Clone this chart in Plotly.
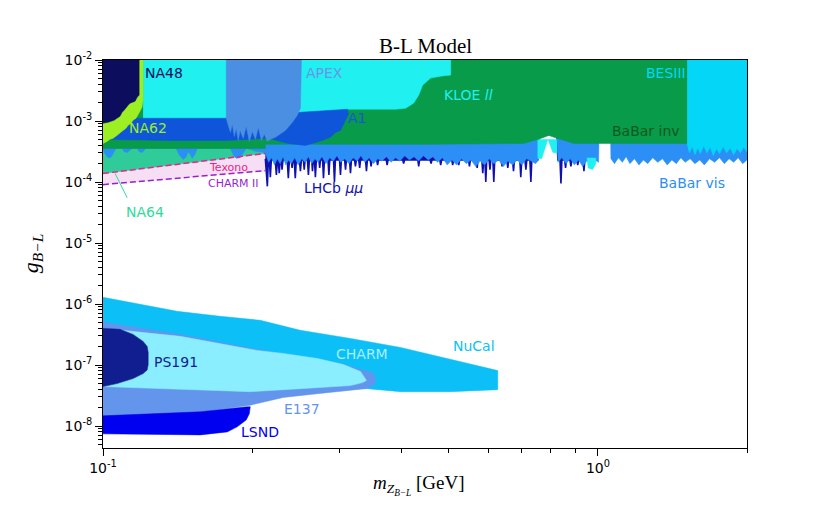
import numpy as np
import plotly.graph_objects as go

# ---------------- data: mass m_Z (GeV) and coupling g_B-L ----------------
# upper (visible / invisible decay) bounds
babar_inv_m = [0.1, 1.514, 1.514, 0.894, 0.8147, 0.7957, 0.7667, 0.7083, 0.459, 0.2128, 0.2128, 0.1]
babar_inv_g = [1e-2, 1e-2, 4.29e-4, 4.29e-4, 5.4e-4, 5.81e-4, 5.19e-4, 4.29e-4, 4.14e-4, 4.14e-4, 3.55e-4, 3.55e-4]

babar_vis_m = [0.1, 0.1009, 0.1024, 0.1038, 0.1053, 0.1062, 0.1093, 0.1103, 0.1119, 0.1134, 0.1145,
               0.1172, 0.1183, 0.1199, 0.1210, 0.1222, 0.1405, 0.1425, 0.1452, 0.1471, 0.1486, 0.1500,
               0.1514, 0.1536, 0.1550, 0.1809, 0.1833, 0.1858, 0.1892, 0.1920, 0.1947, 0.1984, 0.2032,
               0.2100,
               0.213, 0.216, 0.219, 0.222, 0.225, 0.228, 0.231, 0.234, 0.237, 0.240, 0.244, 0.248,
               0.252, 0.256, 0.260, 0.264, 0.268, 0.272, 0.277, 0.282, 0.287, 0.292, 0.297, 0.302,
               0.308, 0.314, 0.320, 0.326, 0.332, 0.338, 0.345, 0.352, 0.359, 0.366, 0.374, 0.382,
               0.390, 0.398, 0.407, 0.416, 0.425, 0.434, 0.444, 0.454, 0.464, 0.474, 0.485, 0.496,
               0.507, 0.518, 0.530, 0.542, 0.554, 0.566, 0.578, 0.590, 0.603, 0.616, 0.630, 0.644,
               0.658, 0.672, 0.687, 0.702, 0.717, 0.733, 0.748, 0.7558, 0.7593, 0.792, 0.826, 0.830,
               0.845, 0.862, 0.879, 0.896, 0.913, 0.931, 0.949, 0.967, 0.985, 1.003, 1.005, 1.060,
               1.062, 1.080, 1.100, 1.120, 1.140, 1.160, 1.185, 1.210, 1.235, 1.260, 1.290, 1.320,
               1.350, 1.380, 1.410, 1.440, 1.470, 1.500, 1.535, 1.570, 1.605, 1.640, 1.680, 1.720,
               1.760, 1.800, 1.840, 1.880, 1.920, 1.960, 2.0, 2.0, 0.1]
babar_vis_g = [3.4e-4, 2.9e-4, 2.5e-4, 2.55e-4, 3.1e-4, 3.55e-4, 3.55e-4, 3.15e-4, 3.05e-4, 3.3e-4, 3.55e-4,
               3.55e-4, 3.15e-4, 3.05e-4, 3.35e-4, 3.55e-4, 3.55e-4, 2.8e-4, 2.35e-4, 2.55e-4, 3.1e-4, 2.85e-4,
               2.45e-4, 2.9e-4, 3.55e-4, 3.55e-4, 2.8e-4, 2.45e-4, 2.5e-4, 3.0e-4, 3.55e-4, 3.4e-4, 3.2e-4,
               3.1e-4,
               2.9e-4, 2.1e-4, 2.5e-4, 1.9e-4, 2.4e-4, 2.0e-4, 2.6e-4, 1.9e-4, 2.3e-4, 2.0e-4, 2.5e-4, 1.9e-4,
               2.4e-4, 2.1e-4, 2.6e-4, 2.0e-4, 2.4e-4, 2.1e-4, 2.6e-4, 2.0e-4, 2.5e-4, 2.2e-4, 2.7e-4, 2.1e-4,
               2.4e-4, 2.0e-4, 2.5e-4, 2.2e-4, 2.7e-4, 2.1e-4, 2.5e-4, 2.0e-4, 2.4e-4, 2.2e-4, 2.6e-4, 2.1e-4,
               2.5e-4, 2.2e-4, 2.7e-4, 2.3e-4, 2.6e-4, 2.2e-4, 2.7e-4, 2.3e-4, 2.6e-4, 2.1e-4, 2.5e-4, 1.9e-4,
               2.3e-4, 1.9e-4, 2.4e-4, 2.0e-4, 2.3e-4, 1.8e-4, 2.2e-4, 1.9e-4, 2.4e-4, 2.0e-4, 2.3e-4, 1.8e-4,
               2.2e-4, 1.9e-4, 2.3e-4, 1.9e-4, 2.4e-4, 2.2e-4, 2.0e-4, 2.2e-4, 6e-4, 6e-4, 6e-4, 2.1e-4,
               2.5e-4, 2.0e-4, 2.4e-4, 1.9e-4, 2.3e-4, 1.8e-4, 2.2e-4, 1.9e-4, 2.3e-4, 2.1e-4, 6e-4, 6e-4,
               2.4e-4, 2.0e-4, 2.5e-4, 2.1e-4, 2.6e-4, 2.0e-4, 2.4e-4, 1.9e-4, 2.3e-4, 2.0e-4, 2.5e-4, 2.1e-4,
               2.4e-4, 1.9e-4, 2.3e-4, 2.0e-4, 2.5e-4, 2.1e-4, 2.4e-4, 2.0e-4, 2.3e-4, 1.9e-4, 2.4e-4, 2.1e-4,
               2.5e-4, 2.0e-4, 2.4e-4, 2.1e-4, 2.5e-4, 2.0e-4, 2.3e-4, 1e-2, 1e-2]

# LHCb mu-mu: thin downward spikes (base, tip, base) below the BaBar band
lhcb_m = [0.2128, 0.2138, 0.2148, 0.2158, 0.2168, 0.2178, 0.2188, 0.2228, 0.2240, 0.2252, 0.2260, 0.2270,
          0.2280, 0.2290, 0.2300, 0.2310, 0.2356, 0.2368, 0.2380, 0.2400, 0.2410, 0.2420, 0.2434, 0.2446,
          0.2458, 0.2493, 0.2505, 0.2517, 0.2540, 0.2550, 0.2560, 0.2588, 0.2600, 0.2612, 0.2640, 0.2650,
          0.2660, 0.2674, 0.2686, 0.2698, 0.2730, 0.2740, 0.2750, 0.2777, 0.2789, 0.2801, 0.2848, 0.2860,
          0.2872, 0.2922, 0.2935, 0.2948, 0.3005, 0.3018, 0.3031, 0.3077, 0.3090, 0.3103, 0.3148, 0.3162,
          0.3176, 0.3222, 0.3236, 0.3250, 0.3286, 0.3300, 0.3314, 0.3391, 0.3406, 0.3421, 0.3465, 0.3480,
          0.3495, 0.3572, 0.3587, 0.3602, 0.3734, 0.3750, 0.3766, 0.4032, 0.4049, 0.4066, 0.4325, 0.4343,
          0.4361, 0.4580, 0.4600, 0.4620, 0.4790, 0.4811, 0.4832, 0.5065, 0.5087, 0.5109, 0.5209, 0.5232,
          0.5255, 0.5476, 0.5500, 0.5524, 0.5675, 0.5700, 0.5725, 0.5826, 0.5851, 0.5876, 0.5908, 0.5934,
          0.5960, 0.6024, 0.6050, 0.6076, 0.6132, 0.6159, 0.6186, 0.6372, 0.6400, 0.6428, 0.6544, 0.6573,
          0.6602, 0.6720, 0.6750, 0.6780, 0.6952, 0.6983, 0.7014, 0.7118, 0.7150, 0.7182, 0.7285, 0.7318,
          0.7351, 0.7558, 0.7593, 0.8260, 0.8298, 0.8380, 0.8417, 0.8454, 0.8562, 0.8600, 0.8638, 0.8777,
          0.8816, 0.8855, 0.9060, 0.9100, 0.9140, 0.9327, 0.9368, 0.9409, 0.9800, 0.9800, 0.2128]
lhcb_g = [2.4e-4, 1.6e-4, 8.5e-5, 2.3e-4, 2.3e-4, 1.2e-4, 2.3e-4, 2.3e-4, 1.3e-4, 2.3e-4, 2.3e-4, 1.4e-4,
          2.3e-4, 2.3e-4, 1.6e-4, 2.3e-4, 2.3e-4, 1.15e-4, 2.3e-4, 2.3e-4, 1.7e-4, 2.3e-4, 2.3e-4, 1.15e-4,
          2.3e-4, 2.3e-4, 1.5e-4, 2.3e-4, 2.3e-4, 1.6e-4, 2.3e-4, 2.3e-4, 1.3e-4, 2.3e-4, 2.3e-4, 1.5e-4,
          2.3e-4, 2.3e-4, 1.2e-4, 2.3e-4, 2.3e-4, 1.7e-4, 2.3e-4, 2.3e-4, 1.15e-4, 2.3e-4, 2.3e-4, 1.3e-4,
          2.3e-4, 2.3e-4, 1.0e-4, 2.3e-4, 2.3e-4, 1.3e-4, 2.3e-4, 2.3e-4, 1.6e-4, 2.3e-4, 2.3e-4, 1.4e-4,
          2.3e-4, 2.3e-4, 1.8e-4, 2.3e-4, 2.3e-4, 1.7e-4, 2.3e-4, 2.3e-4, 1.5e-4, 2.3e-4, 2.3e-4, 1.8e-4,
          2.3e-4, 2.3e-4, 1.9e-4, 2.3e-4, 2.3e-4, 1.9e-4, 2.3e-4, 2.3e-4, 2.0e-4, 2.3e-4, 2.3e-4, 1.8e-4,
          2.3e-4, 2.3e-4, 2.0e-4, 2.3e-4, 2.3e-4, 1.9e-4, 2.3e-4, 2.3e-4, 1.9e-4, 2.3e-4, 2.3e-4, 1.9e-4,
          2.3e-4, 2.3e-4, 1.8e-4, 2.3e-4, 2.3e-4, 1.7e-4, 2.3e-4, 2.3e-4, 1.4e-4, 2.3e-4, 2.3e-4, 1.0e-4,
          2.3e-4, 2.3e-4, 1.6e-4, 2.3e-4, 2.3e-4, 1.0e-4, 2.3e-4, 2.3e-4, 1.8e-4, 2.3e-4, 2.3e-4, 1.7e-4,
          2.3e-4, 2.3e-4, 1.5e-4, 2.3e-4, 2.3e-4, 1.2e-4, 2.3e-4, 2.3e-4, 1.6e-4, 2.3e-4, 2.3e-4, 1.0e-4,
          2.3e-4, 2.3e-4, 6e-4, 6e-4, 2.3e-4, 2.3e-4, 9.5e-5, 2.3e-4, 2.3e-4, 1.7e-4, 2.3e-4, 2.3e-4,
          1.8e-4, 2.3e-4, 2.3e-4, 1.9e-4, 2.3e-4, 2.3e-4, 1.5e-4, 2.3e-4, 2.4e-4, 6e-4, 6e-4]

besiii_m = [1.514, 1.53, 1.55, 1.57, 1.59, 1.61, 1.635, 1.66, 1.685, 1.71, 1.735, 1.76, 1.79, 1.82,
            1.85, 1.88, 1.91, 1.94, 1.97, 2.0, 2.0, 1.514]
besiii_g = [4.2e-4, 3.0e-4, 3.8e-4, 2.8e-4, 3.6e-4, 2.9e-4, 3.9e-4, 3.0e-4, 3.7e-4, 2.7e-4, 3.5e-4, 2.9e-4,
            3.8e-4, 3.0e-4, 3.6e-4, 2.8e-4, 3.5e-4, 3.0e-4, 3.7e-4, 3.1e-4, 1e-2, 1e-2]

kloe_m = [0.1205, 0.5041, 0.5041, 0.4811, 0.459, 0.4422, 0.4343, 0.4240, 0.4087, 0.3901, 0.3118, 0.25, 0.1205]
kloe_g = [1e-2, 1e-2, 5.66e-3, 5.44e-3, 5.05e-3, 3.87e-3, 2.65e-3, 1.96e-3, 1.62e-3, 1.56e-3, 1.56e-3, 1.0e-3, 1.0e-3]
kloe_low1_m = [0.7558, 0.7558, 0.770, 0.781, 0.792]
kloe_low1_g = [5.0e-4, 2.43e-4, 2.43e-4, 3.55e-4, 5.0e-4]
kloe_low2_m = [0.792, 0.8033, 0.8108, 0.8260, 0.8260]
kloe_low2_g = [5.0e-4, 3.55e-4, 3.05e-4, 3.0e-4, 5.0e-4]
kloe_low3_m = [0.950, 0.955, 0.975, 0.990, 0.990]
kloe_low3_g = [2.5e-4, 1.7e-4, 1.6e-4, 2.0e-4, 2.5e-4]

a1_m = [0.1, 0.1774, 0.2505, 0.3018, 0.3118, 0.3133, 0.3089, 0.3060, 0.3018, 0.2949, 0.2880, 0.2775,
        0.2564, 0.2368, 0.2158, 0.1774, 0.1366, 0.1]
a1_g = [1.11e-3, 1.11e-3, 1.39e-3, 1.53e-3, 1.56e-3, 1.3e-3, 1.03e-3, 9.2e-4, 7.0e-4, 6.5e-4, 5.4e-4, 4.8e-4,
        3.98e-4, 4.29e-4, 5.2e-4, 4.8e-4, 4.8e-4, 5.0e-4]

apex_m = [0.1774, 0.1774, 0.1791, 0.1809, 0.1825, 0.1842, 0.1858, 0.1876, 0.1892, 0.1920, 0.1947, 0.1975,
          0.2003, 0.2032, 0.2060, 0.2089, 0.2118, 0.2148, 0.2178, 0.2229, 0.2336, 0.2413, 0.2469, 0.2505, 0.2517]
apex_g = [1e-2, 1.11e-3, 8.5e-4, 6.52e-4, 8.83e-4, 5.6e-4, 7.59e-4, 4.81e-4, 7.0e-4, 5.19e-4, 8.18e-4, 4.63e-4,
          6.76e-4, 5.0e-4, 7.87e-4, 4.81e-4, 6.04e-4, 4.63e-4, 5.0e-4, 5.4e-4, 7.0e-4, 9.5e-4, 1.24e-3, 1.62e-3, 1e-2]

na62_m = [0.1, 0.1205, 0.1205, 0.1199, 0.1188, 0.1177, 0.1166, 0.1150, 0.1140, 0.1124, 0.1113, 0.1098,
          0.1082, 0.1067, 0.1047, 0.1033, 0.1019, 0.1]
na62_g = [1e-2, 1e-2, 2.19e-3, 1.68e-3, 1.45e-3, 1.24e-3, 1.11e-3, 1.03e-3, 9.2e-4, 8.5e-4, 7.59e-4, 7.0e-4,
          6.27e-4, 5.81e-4, 5.19e-4, 5.0e-4, 4.63e-4, 4.29e-4]

na48_m = [0.1, 0.1183, 0.1183, 0.1172, 0.1161, 0.1150, 0.1134, 0.1124, 0.1113, 0.1103, 0.1093, 0.1082,
          0.1067, 0.1053, 0.1038, 0.1024, 0.1]
na48_g = [1e-2, 1e-2, 2.65e-3, 2.46e-3, 2.11e-3, 2.03e-3, 1.96e-3, 1.82e-3, 1.68e-3, 1.50e-3, 1.39e-3, 1.195e-3,
          1.11e-3, 1.03e-3, 9.9e-4, 9.52e-4, 9.2e-4]

na64_m = [0.1, 0.2128, 0.2128, 0.1]
na64_g = [1.38e-4, 2.94e-4, 4.5e-4, 4.5e-4]

texono_m = [0.1, 0.2128]
texono_g = [1.38e-4, 2.94e-4]
charm2_m = [0.1, 0.2128]
charm2_g = [9.06e-5, 1.54e-4]

# lower (beam dump) bounds
nucal_m = [0.1, 0.1188, 0.1412, 0.1725, 0.2079, 0.2505, 0.3162, 0.3992, 0.4321, 0.5454, 0.6073, 0.6274,
           0.6274, 0.5041, 0.3992, 0.3423, 0.2505, 0.1572, 0.1]
nucal_g = [1.29e-6, 9.93e-7, 7.6e-7, 6.29e-7, 5.41e-7, 3.7e-7, 2.73e-7, 1.94e-7, 1.67e-7, 1.06e-7, 8.75e-8, 8.11e-8,
           3.95e-8, 3.66e-8, 3.66e-8, 4.1e-8, 4.43e-8, 5.35e-8, 5.35e-8]

e137_m = [0.1, 0.1432, 0.2050, 0.2505, 0.3018, 0.3313, 0.3503, 0.3553, 0.3536, 0.3391, 0.3018, 0.2711,
          0.2314, 0.1984, 0.1572, 0.1245, 0.1]
e137_g = [5.01e-7, 3.18e-7, 1.8e-7, 1.38e-7, 1.06e-7, 8.43e-8, 7.52e-8, 6.23e-8, 4.78e-8, 4.1e-8, 3.66e-8, 3.39e-8,
          2.95e-8, 2.2e-8, 1.7e-8, 1.45e-8, 1.3e-8]

charm_m = [0.1, 0.1432, 0.2050, 0.2314, 0.2711, 0.3060, 0.3313, 0.3391, 0.3406, 0.3344, 0.3162, 0.2505, 0.1984, 0.1]
charm_g = [3.99e-7, 2.95e-7, 1.73e-7, 1.55e-7, 1.28e-7, 1.02e-7, 7.82e-8, 6.0e-8, 5.6e-8, 5.15e-8, 4.6e-8, 4.1e-8, 3.66e-8, 4.43e-8]

ps191_m = [0.1, 0.1082, 0.1150, 0.1205, 0.1228, 0.1234, 0.1234, 0.1228, 0.1205, 0.1150, 0.1067, 0.1]
ps191_g = [3.99e-7, 3.85e-7, 3.18e-7, 2.44e-7, 2.02e-7, 1.6e-7, 1.02e-7, 8.3e-8, 7.24e-8, 6.0e-8, 4.96e-8, 4.43e-8]

lsnd_m = [0.1, 0.1572, 0.1957, 0.1984, 0.1975, 0.1947, 0.1867, 0.1782, 0.1572, 0.1150, 0.1]
lsnd_g = [1.47e-8, 1.71e-8, 2.07e-8, 2.07e-8, 1.59e-8, 1.26e-8, 9.7e-9, 8.02e-9, 7.16e-9, 7.44e-9, 7.44e-9]

# axis ticks
x_major = [0.1, 1.0]
x_major_text = ["10<sup>-1</sup>", "10<sup>0</sup>"]
x_minor = [0.2, 0.3, 0.4, 0.5, 0.6, 0.7, 0.8, 0.9, 2.0]
y_major = [1e-2, 1e-3, 1e-4, 1e-5, 1e-6, 1e-7, 1e-8]
y_major_text = ["10<sup>-2</sup>", "10<sup>-3</sup>", "10<sup>-4</sup>", "10<sup>-5</sup>",
                "10<sup>-6</sup>", "10<sup>-7</sup>", "10<sup>-8</sup>"]

# labels: (text, mass, coupling, color, size)
labels = [
    ("NA48", 0.1329, 6.1e-3, "#0d0d5e", 14),
    ("APEX", 0.2802, 6.1e-3, "#6d93e8", 14),
    ("BESIII", 1.373, 6.1e-3, "#00d8f8", 14),
    ("NA62", 0.1234, 7.59e-4, "#9bef23", 14),
    ("A1", 0.3252, 1.11e-3, "#1a55dd", 14),
    ("KLOE <i>ll</i>", 0.5481, 2.65e-3, "#20f0f0", 14),
    ("BaBar inv", 1.251, 6.76e-4, "#0e5a1c", 14),
    ("Texono", 0.1791, 1.73e-4, "#e8258a", 11),
    ("CHARM II", 0.1833, 9.4e-5, "#9a1fcf", 11),
    ("LHCb <i>μμ</i>", 0.2921, 8.1e-5, "#1010b0", 14),
    ("BaBar vis", 1.55, 9.77e-5, "#2b8ff5", 14),
    ("NA64", 0.1216, 3.25e-5, "#2fdb99", 14),
    ("NuCal", 0.561, 2.02e-7, "#0cbff7", 14),
    ("CHARM", 0.333, 1.49e-7, "#a6f0ff", 14),
    ("PS191", 0.1405, 1.14e-7, "#111e8f", 14),
    ("E137", 0.2529, 1.92e-8, "#6495ed", 14),
    ("LSND", 0.2079, 8.02e-9, "#0000f0", 14),
]
na64_pointer_m = [0.1058, 0.1119]
na64_pointer_g = [1.38e-4, 5.53e-5]

# ---------------- figure ----------------
fig = go.Figure()


def region(m, g, color, lw=0.5):
    fig.add_trace(go.Scatter(x=m, y=g, mode="lines", fill="toself", fillcolor=color,
                             line=dict(color=color, width=lw), hoverinfo="skip", showlegend=False))


region(charm2_m + texono_m[::-1], charm2_g + texono_g[::-1], "#f6dff5")
region(na64_m, na64_g, "#2fcb99")
region(lhcb_m, lhcb_g, "#1010b0", lw=1.6)
region(babar_vis_m, babar_vis_g, "#2b8ff5")
region(kloe_low1_m, kloe_low1_g, "#20f0f0")
region(kloe_low2_m, kloe_low2_g, "#20f0f0")
region(kloe_low3_m, kloe_low3_g, "#20f0f0")
region(babar_inv_m, babar_inv_g, "#089b4a")
region(kloe_m, kloe_g, "#20f0f0")
region(a1_m, a1_g, "#0e55da")
region(apex_m, apex_g, "#4b8fe3")
region(na62_m, na62_g, "#9bef23")
region(na48_m, na48_g, "#0d0d5e")
region(besiii_m, besiii_g, "#03d6f7")

fig.add_trace(go.Scatter(x=texono_m, y=texono_g, mode="lines", hoverinfo="skip", showlegend=False,
                         line=dict(color="#e8258a", width=1.5, dash="6px,3px")))
fig.add_trace(go.Scatter(x=charm2_m, y=charm2_g, mode="lines", hoverinfo="skip", showlegend=False,
                         line=dict(color="#9a1fcf", width=1.5, dash="6px,3px")))

region(nucal_m, nucal_g, "#0cbff7")
region(e137_m, e137_g, "#6495ed")
region(charm_m, charm_g, "#8aeeff")
region(ps191_m, ps191_g, "#111e8f")
region(lsnd_m, lsnd_g, "#0000f0")

fig.add_trace(go.Scatter(x=na64_pointer_m, y=na64_pointer_g, mode="lines", hoverinfo="skip",
                         showlegend=False, line=dict(color="#2fdb99", width=1)))

annotations = []
for text, m, g, col, size in labels:
    annotations.append(dict(x=np.log10(m), y=np.log10(g), xref="x", yref="y", text=text,
                            showarrow=False, xanchor="center", yanchor="middle",
                            font=dict(family="DejaVu Sans", size=size, color=col)))

annotations.append(dict(x=0.5, y=1.036, xref="paper", yref="paper", text="B-L Model", showarrow=False,
                        xanchor="center", yanchor="middle",
                        font=dict(family="Liberation Serif", size=21, color="black")))
annotations.append(dict(x=-0.110, y=0.5, xref="paper", yref="paper",
                        text="<i>g</i><sub><i>B−L</i></sub>", textangle=-90, showarrow=False,
                        xanchor="center", yanchor="middle",
                        font=dict(family="Liberation Serif", size=22, color="black")))
annotations.append(dict(x=0.49, y=-0.095, xref="paper", yref="paper",
                        text="<i>m</i><sub><i>Z</i><sub><i>B−L</i></sub></sub> [GeV]", showarrow=False,
                        xanchor="center", yanchor="middle",
                        font=dict(family="Liberation Serif", size=19, color="black")))

y_minor = []
for k in range(-9, -2):
    for d in range(2, 10):
        v = d * 10.0 ** k
        if 4.4e-9 < v < 1e-2:
            y_minor.append(v)

# the page body adds an 8px offset, so margins are reduced by 8px on left/top
fig.update_layout(
    width=830, height=508,
    margin=dict(l=95, r=91, t=52, b=68),
    paper_bgcolor="white", plot_bgcolor="white",
    showlegend=False,
    annotations=annotations,
    xaxis=dict(type="log", range=[-1, np.log10(2.0)], showgrid=False, zeroline=False,
               showline=True, linecolor="black", linewidth=1, mirror=True,
               tickmode="array", tickvals=x_major, ticktext=x_major_text,
               ticks="outside", ticklen=7, tickwidth=1, tickcolor="black",
               tickfont=dict(family="DejaVu Sans", size=14, color="black"),
               minor=dict(tickmode="array", tickvals=x_minor, ticks="outside", ticklen=4,
                          tickwidth=1, tickcolor="black", showgrid=False)),
    yaxis=dict(type="log", range=[-8.36, -2], showgrid=False, zeroline=False,
               showline=True, linecolor="black", linewidth=1, mirror=True,
               tickmode="array", tickvals=y_major, ticktext=y_major_text,
               ticks="outside", ticklen=7, tickwidth=1, tickcolor="black",
               tickfont=dict(family="DejaVu Sans", size=14, color="black"),
               minor=dict(tickmode="array", tickvals=y_minor, ticks="outside", ticklen=4,
                          tickwidth=1, tickcolor="black", showgrid=False)),
)

fig.write_html("out.html")
